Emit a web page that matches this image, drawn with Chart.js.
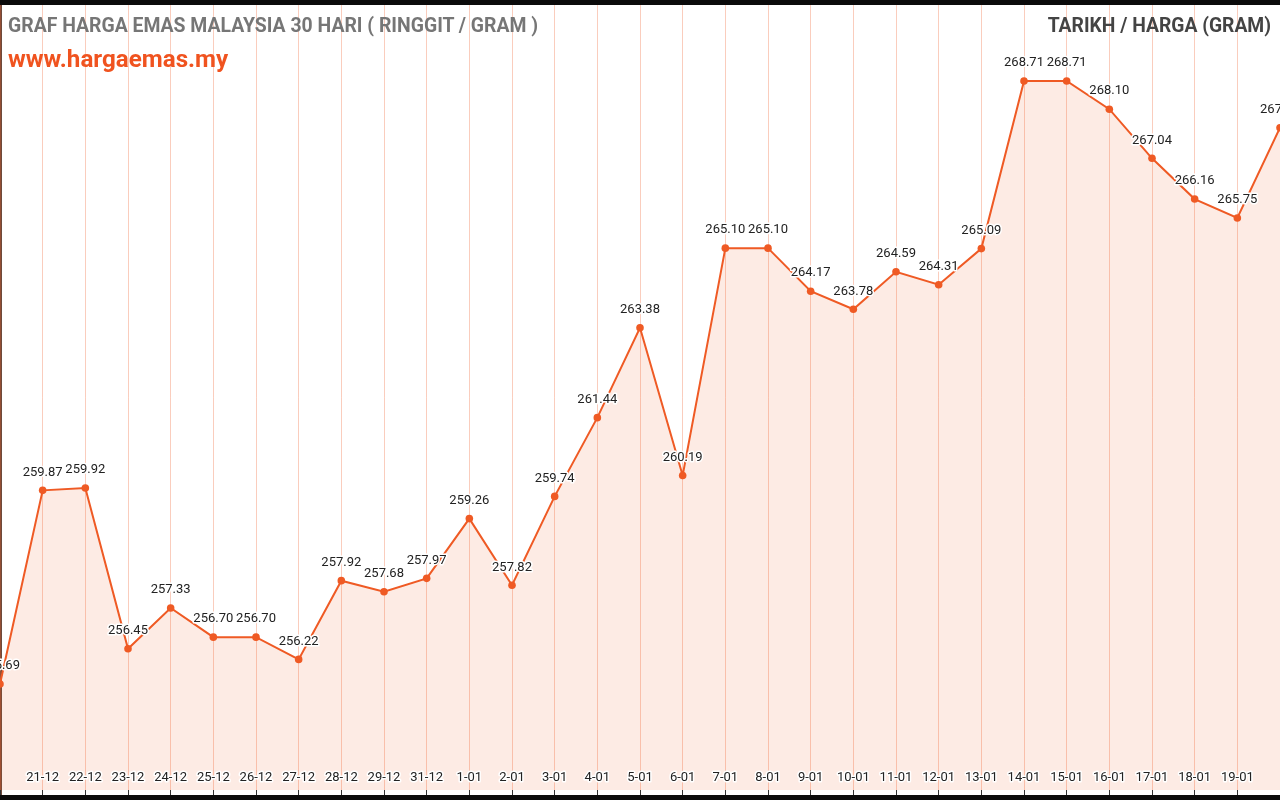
<!DOCTYPE html>
<html>
<head>
<meta charset="utf-8">
<script src="https://cdn.jsdelivr.net/npm/chart.js@4"></script>
<style>
  html, body { margin: 0; padding: 0; background: #0b0b0b; width: 1280px; height: 800px; overflow: hidden; }
  #wrap { position: absolute; left: 0; top: 5px; width: 1280px; height: 790px; background: #fff; }
  #edge { position: absolute; left: 0; top: 0; width: 2px; height: 790px; background: #6e4a3c; }
  #chart { position: absolute; left: 0; top: 0; }
  .t { position: absolute; font-family: Roboto, "Noto Sans", sans-serif; font-weight: bold; white-space: nowrap; }
  #title { left: 8px; top: 9px; font-size: 19.4px; color: #767676; }
  #site { left: 8px; top: 40px; font-size: 24.2px; color: #f0531f; }
  #right { right: 9px; top: 9px; font-size: 19.3px; color: #444; }
</style>
</head>
<body>
<div id="wrap">
  <div id="edge"></div>
  <canvas id="chart" width="1280" height="790"></canvas>
  <div class="t" id="title">GRAF HARGA EMAS MALAYSIA 30 HARI ( RINGGIT / GRAM )</div>
  <div class="t" id="site">www.hargaemas.my</div>
  <div class="t" id="right">TARIKH / HARGA (GRAM)</div>
</div>
<script>
// ─── Data ───────────────────────────────────────────────
const dates = [
  "20-12", "21-12", "22-12", "23-12", "24-12", "25-12", "26-12", "27-12", "28-12", "29-12",
  "31-12", "1-01", "2-01", "3-01", "4-01", "5-01", "6-01", "7-01", "8-01", "9-01",
  "10-01", "11-01", "12-01", "13-01", "14-01", "15-01", "16-01", "17-01", "18-01", "19-01", "20-01"
];
const prices = [
  255.69, 259.87, 259.92, 256.45, 257.33, 256.70, 256.70, 256.22, 257.92, 257.68,
  257.97, 259.26, 257.82, 259.74, 261.44, 263.38, 260.19, 265.10, 265.10, 264.17,
  263.78, 264.59, 264.31, 265.09, 268.71, 268.71, 268.10, 267.04, 266.16, 265.75, 267.70
];
const yMin = 253.40;
const yMax = 270.35;

const ORANGE = "#ef5a24";
const FONT = "Roboto, 'Noto Sans', sans-serif";

// labels with a white halo, drawn from the scales
function haloText(ctx, txt, x, y) {
  ctx.lineWidth = 3;
  ctx.strokeStyle = "#fff";
  ctx.lineJoin = "round";
  ctx.strokeText(txt, x, y);
  ctx.fillText(txt, x, y);
}

const labelsPlugin = {
  id: "labelsPlugin",
  afterDatasetsDraw(chart) {
    const { ctx, scales: { x, y }, chartArea } = chart;
    ctx.save();
    ctx.font = "13px " + FONT;
    ctx.fillStyle = "#222";
    ctx.textAlign = "center";
    ctx.textBaseline = "middle";
    // value labels
    prices.forEach((v, i) => {
      haloText(ctx, v.toFixed(2), x.getPixelForValue(i), y.getPixelForValue(v) - 18);
    });
    // date labels inside the plot, skip the edge ones
    dates.forEach((d, i) => {
      if (i === 0 || i === dates.length - 1) return;
      haloText(ctx, d, x.getPixelForValue(i), chartArea.bottom - 12);
    });
    ctx.restore();
  }
};

const $ = (id) => document.getElementById(id);

new Chart($("chart").getContext("2d"), {
  type: "line",
  data: {
    labels: dates,
    datasets: [{
      data: prices,
      borderColor: ORANGE,
      backgroundColor: "rgba(240,90,36,0.12)",
      borderWidth: 2,
      fill: "start",
      tension: 0,
      pointRadius: 3.8,
      pointBackgroundColor: ORANGE,
      pointBorderWidth: 0,
    }]
  },
  options: {
    responsive: false,
    animation: false,
    layout: { padding: 0, autoPadding: false },
    plugins: { legend: { display: false }, tooltip: { enabled: false } },
    scales: {
      x: {
        offset: false,
        border: { display: false },
        grid: { color: "rgba(240,90,36,0.3)", lineWidth: 1, drawTicks: true, tickLength: 5, tickColor: "#333" },
        ticks: { display: false }
      },
      y: {
        display: false,
        min: yMin,
        max: yMax
      }
    }
  },
  plugins: [labelsPlugin]
});
</script>
</body>
</html>
